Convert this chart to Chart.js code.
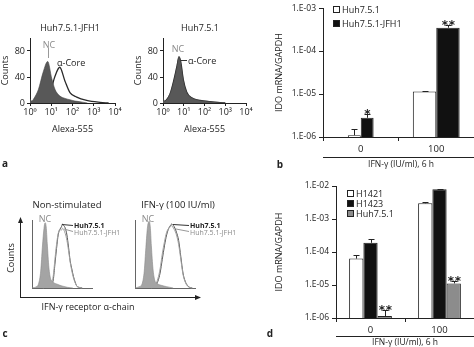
<!DOCTYPE html>
<html>
<head>
<meta charset="utf-8">
<script src="https://cdn.jsdelivr.net/npm/chart.js@4"></script>
<style>
body { margin: 0; background: #fff; }
#fig { position: relative; width: 474px; height: 347px; overflow: hidden; background: #fff;
  font-family: 'Open Sans', sans-serif; color: #222; }
#fig canvas { position: absolute; }
.lbl { position: absolute; white-space: nowrap; font-size: 9px; line-height: 1; transform: translate(-50%, -50%); }
.lft { transform: translate(0, -50%); }
.gry { color: #8a8a8a; }
.pl { font-weight: bold; font-size: 10px; }
svg { position: absolute; left: 0; top: 0; }
</style>
</head>
<body>
<div id="fig">
  <canvas id="a1" width="124" height="105" style="left:0;top:30px"></canvas>
  <canvas id="a2" width="122" height="105" style="left:133px;top:30px"></canvas>
  <canvas id="b" width="200" height="170" style="left:274px;top:0"></canvas>
  <canvas id="c1" width="64" height="72" style="left:30px;top:218px"></canvas>
  <canvas id="c2" width="64" height="72" style="left:133px;top:218px"></canvas>
  <canvas id="d" width="200" height="171" style="left:274px;top:176px"></canvas>
  <svg width="474" height="347" stroke-width="1" fill="none">
    <!-- panel a leader lines -->
    <line x1="48.5" y1="48" x2="48.5" y2="58" stroke="#999"/>
    <line x1="181" y1="60.5" x2="187" y2="60.5" stroke="#333"/>
    <!-- panel c frame arrows -->
    <line x1="20.5" y1="297.5" x2="20.5" y2="221" stroke="#222"/>
    <polygon points="18,223 23,223 20.5,217" fill="#222" stroke="none"/>
    <line x1="20" y1="297.5" x2="196" y2="297.5" stroke="#222"/>
    <polygon points="195,295 195,300 201,297.5" fill="#222" stroke="none"/>
    <!-- panel c leader lines -->
    <line x1="62" y1="224.5" x2="73" y2="225.5" stroke="#333"/>
    <line x1="64" y1="229" x2="73" y2="231.5" stroke="#999"/>
    <line x1="173" y1="224.5" x2="189" y2="225.5" stroke="#333"/>
    <line x1="176" y1="229" x2="189" y2="231.5" stroke="#999"/>
    <!-- group lines under category axes -->
    <line x1="323" y1="157.5" x2="474" y2="157.5" stroke="#222"/>
    <line x1="336" y1="336.5" x2="474" y2="336.5" stroke="#222"/>
  </svg>
</div>
<script>
// ---------- data ----------
// a: Alexa-555 (log channel) vs counts
const aJfhNcX   = [1, 1.2, 1.6, 2.5, 4.2, 6.8, 10.5, 15, 25, 45, 76, 130, 225, 500];
const aJfhNcY   = [6, 3, 8, 21, 48, 64, 38, 21, 11, 7, 5, 3, 2, 0];
const aJfhCoreX = [1, 2, 3, 5, 8.7, 15, 25, 44, 76, 158, 465, 2000, 5000];
const aJfhCoreY = [1, 2, 3, 8, 16, 41, 55, 34, 16, 9, 4, 1, 0];
const aHuhX     = [1, 1.1, 1.4, 2.2, 3.1, 4.6, 5.9, 7.1, 9.5, 13.8, 24, 61, 185, 1000];
const aHuhNcY   = [12, 3, 4, 15, 30, 54, 72, 62, 35, 16, 8, 4, 2, 0];
const aHuhCoreY = [10, 2, 4, 14, 31, 55, 70, 64, 36, 17, 8, 4, 2, 0];

// b: IDO mRNA/GAPDH, Huh7.5.1 vs Huh7.5.1-JFH1
const bCats   = ['0', '100'];
const bHuh    = [1.1e-6, 1.15e-5];
const bHuhErr = [0.45e-6, 0.05e-5];
const bJfh    = [2.8e-6, 3.5e-4];
const bJfhErr = [0.7e-6, 0.5e-4];
const bJfhSig = ['*', '**'];

// c: IFN-gamma receptor alpha-chain (channel) vs counts
const c1NcX  = [0, 8, 12, 16, 19, 22, 24, 26, 28, 31, 34, 38, 45, 55, 65, 75];
const c1NcY  = [0, 2, 6, 25, 60, 88, 96, 90, 65, 30, 14, 9, 6, 3, 1, 0];
const c1X    = [20, 30, 35, 39, 42, 45, 48, 51, 54, 56, 58, 61, 64, 67, 70, 73, 76, 79, 82, 86, 92];
const c1HuhY = [0, 2, 5, 12, 35, 58, 78, 86, 90, 94, 92, 88, 78, 60, 40, 28, 17, 9, 3, 1, 0];
const c1JfhY = [0, 3, 8, 18, 42, 64, 80, 86, 85, 88, 86, 80, 70, 55, 38, 25, 15, 8, 3, 1, 0];
const c2NcX  = [0, 8, 13, 17, 20, 23, 26, 28, 30, 33, 36, 40, 48, 58, 70];
const c2NcY  = [0, 2, 6, 25, 60, 90, 98, 90, 62, 28, 12, 7, 4, 2, 0];
const c2X    = [30, 38, 42, 46, 50, 54, 58, 62, 65, 67, 69, 72, 76, 80, 84, 88, 92, 96, 100, 105];
const c2HuhY = [0, 4, 10, 22, 42, 62, 78, 88, 92, 94, 93, 90, 82, 70, 46, 22, 10, 4, 1, 0];
const c2JfhY = [0, 6, 14, 28, 50, 68, 82, 88, 90, 92, 90, 86, 78, 64, 42, 20, 9, 3, 1, 0];

// d: IDO mRNA/GAPDH in three cell lines
const dCats     = ['0', '100'];
const dH1421    = [6.3e-5, 3.0e-3];
const dH1421Err = [1.7e-5, 0.3e-3];
const dH1423    = [1.9e-4, 8.0e-3];
const dH1423Err = [0.6e-4, 0.3e-3];
const dHuh      = [1.15e-6, 1.12e-5];
const dHuhErr   = [0.55e-6, 0.18e-5];
const dHuhSig   = ['**', '**'];

// ---------- setup ----------
Chart.defaults.font.family = "'Open Sans', sans-serif";
Chart.defaults.font.size = 9;
Chart.defaults.color = '#222';
Chart.defaults.animation = false;
Chart.defaults.responsive = false;
Chart.defaults.plugins.legend.display = false;
Chart.defaults.plugins.tooltip.enabled = false;

const pts = (xs, ys) => xs.map((x, i) => ({ x, y: ys[i] }));
const isPow10 = v => { const l = Math.log10(v); return Math.abs(l - Math.round(l)) < 1e-6; };
const SUP = ['⁰', '¹', '²', '³', '⁴'];
const axisGrid = { display: true, drawOnChartArea: false, tickLength: 3, color: '#222' };

function histA(id, ncX, ncY, coreX, coreY) {
  return new Chart(document.getElementById(id), {
    type: 'line',
    data: { datasets: [
      { data: pts(ncX, ncY), fill: 'origin', backgroundColor: '#585858', borderColor: '#444', borderWidth: 0.6,
        pointRadius: 0, cubicInterpolationMode: 'monotone' },
      { data: pts(coreX, coreY), fill: false, borderColor: '#2a2a2a', borderWidth: 1.3,
        pointRadius: 0, cubicInterpolationMode: 'monotone' }
    ] },
    options: {
      layout: { padding: { top: 8, right: 9 } },
      scales: {
        x: { type: 'logarithmic', min: 1, max: 10000,
          afterBuildTicks: s => { s.ticks = s.ticks.filter(t => isPow10(t.value)); },
          ticks: { callback: v => '10' + SUP[Math.round(Math.log10(v))], padding: 1, maxRotation: 0, autoSkip: false },
          grid: axisGrid, border: { color: '#222' },
          title: { display: true, text: 'Alexa-555', padding: 0 },
          afterFit: s => { s.height = 32; } },
        y: { min: 0, max: 100, ticks: { stepSize: 20, padding: 2 },
          grid: axisGrid, border: { color: '#222' },
          title: { display: true, text: 'Counts', padding: 0 },
          afterFit: s => { s.width = 30; } }
      }
    }
  });
}

function histC(id, ncX, ncY, x, huhY, jfhY) {
  const dotted = { display: true, color: '#666', dash: [1, 1.5] };
  return new Chart(document.getElementById(id), {
    type: 'line',
    data: { datasets: [
      { data: pts(ncX, ncY), fill: 'origin', backgroundColor: '#a4a4a4', borderColor: '#888', borderWidth: 0.6,
        pointRadius: 0, cubicInterpolationMode: 'monotone', clip: false },
      { data: pts(x, jfhY), fill: false, borderColor: '#a0a0a0', borderWidth: 1,
        pointRadius: 0, cubicInterpolationMode: 'monotone', clip: false },
      { data: pts(x, huhY), fill: false, borderColor: '#555', borderWidth: 1,
        pointRadius: 0, cubicInterpolationMode: 'monotone', clip: false }
    ] },
    options: {
      layout: { padding: 2 },
      scales: {
        x: { type: 'linear', min: 0, max: 110, ticks: { display: false }, grid: { display: false },
          border: dotted, afterFit: s => { s.height = 0; } },
        y: { min: 0, max: 100, ticks: { display: false }, grid: { display: false },
          border: dotted, afterFit: s => { s.width = 0; } }
      }
    }
  });
}

// error bars + significance marks on top of bars
const errorBars = {
  id: 'errorBars',
  afterDatasetsDraw(chart) {
    const ctx = chart.ctx, y = chart.scales.y;
    chart.data.datasets.forEach((ds, di) => {
      chart.getDatasetMeta(di).data.forEach((bar, i) => {
        const top = Math.round(y.getPixelForValue(ds.data[i] + ds.err[i])) + 0.5;
        const bx = Math.round(bar.x) + 0.5;
        ctx.save();
        ctx.strokeStyle = '#222'; ctx.lineWidth = 1;
        ctx.beginPath();
        ctx.moveTo(bx, bar.y); ctx.lineTo(bx, top);
        ctx.moveTo(bx - 3, top); ctx.lineTo(bx + 3, top);
        ctx.stroke();
        const s = ds.sig && ds.sig[i];
        if (s) {
          ctx.fillStyle = '#222'; ctx.font = "bold 12px 'DejaVu Sans', sans-serif"; ctx.textAlign = 'center';
          const n = s.length;
          for (let k = 0; k < n; k++) ctx.fillText('*', bx + (k - (n - 1) / 2) * 7, top + 3);
        }
        ctx.restore();
      });
    });
  }
};

// narrower bar groups where the figure draws them narrower
const groupWidth = {
  id: 'groupWidth',
  afterDatasetsUpdate(chart, args, opts) {
    const f = opts.factors;
    if (!f) return;
    const x = chart.scales.x;
    chart.data.datasets.forEach((ds, di) => {
      chart.getDatasetMeta(di).data.forEach((bar, i) => {
        const c = x.getPixelForValue(i);
        bar.x = c + (bar.x - c) * f[i];
        bar.width *= f[i];
      });
    });
  }
};

// vertical legend inside the plot
const boxLegend = {
  id: 'boxLegend',
  afterDraw(chart, args, o) {
    const ctx = chart.ctx, a = chart.chartArea;
    chart.data.datasets.forEach((ds, i) => {
      const x = Math.round(a.left + o.x), y = Math.round(a.top + o.y + i * o.gap);
      ctx.save();
      ctx.fillStyle = ds.backgroundColor; ctx.fillRect(x, y - 3, 7, 7);
      ctx.strokeStyle = '#222'; ctx.lineWidth = 1; ctx.strokeRect(x + 0.5, y - 2.5, 6, 6);
      ctx.fillStyle = '#222'; ctx.font = "9px 'Open Sans', sans-serif"; ctx.textBaseline = 'middle';
      ctx.fillText(ds.label, x + 9, y + 1);
      ctx.restore();
    });
  }
};

function barChart(id, cats, datasets, min, max, yWidth, xHeight, padTop, legend, factors) {
  return new Chart(document.getElementById(id), {
    type: 'bar',
    data: { labels: cats, datasets: datasets.map(d => Object.assign({
      borderColor: '#222', borderWidth: 1, categoryPercentage: 0.62, barPercentage: 1 }, d)) },
    options: {
      layout: { padding: { top: padTop, right: 0 } },
      plugins: { boxLegend: legend, groupWidth: { factors } },
      scales: {
        x: { grid: { display: true, offset: true, drawOnChartArea: false, tickLength: 4, color: '#222' },
          border: { color: '#222' }, ticks: { padding: 3, font: { size: 9.5 } },
          afterFit: s => { s.height = xHeight; } },
        y: { type: 'logarithmic', min, max,
          afterBuildTicks: s => { s.ticks = s.ticks.filter(t => isPow10(t.value)); },
          ticks: { callback: v => '1.E-' + String(-Math.round(Math.log10(v))).padStart(2, '0'), padding: 3, font: { size: 8.5 } },
          grid: { display: true, drawOnChartArea: false, tickLength: 4, color: '#222' },
          border: { color: '#222' },
          title: { display: true, text: 'IDO mRNA/GAPDH', padding: 0 },
          afterFit: s => { s.width = yWidth; } }
      }
    },
    plugins: [groupWidth, errorBars, boxLegend]
  });
}

histA('a1', aJfhNcX, aJfhNcY, aJfhCoreX, aJfhCoreY);
histA('a2', aHuhX, aHuhNcY, aHuhX, aHuhCoreY);

barChart('b', bCats, [
  { label: 'Huh7.5.1', data: bHuh, err: bHuhErr, backgroundColor: '#fff' },
  { label: 'Huh7.5.1-JFH1', data: bJfh, err: bJfhErr, sig: bJfhSig, backgroundColor: '#111' }
], 1e-6, 1e-3, 49, 33, 4, { x: 10, y: 1, gap: 14 }, [0.55, 1]);

histC('c1', c1NcX, c1NcY, c1X, c1HuhY, c1JfhY);
histC('c2', c2NcX, c2NcY, c2X, c2HuhY, c2JfhY);

barChart('d', dCats, [
  { label: 'H1421', data: dH1421, err: dH1421Err, backgroundColor: '#fff' },
  { label: 'H1423', data: dH1423, err: dH1423Err, backgroundColor: '#111' },
  { label: 'Huh7.5.1', data: dHuh, err: dHuhErr, sig: dHuhSig, backgroundColor: '#8c8c8c' }
], 1e-6, 1e-2, 62, 29, 10, { x: 11, y: 7, gap: 10 }, [1, 1]);

// ---------- text ----------
const fig = document.getElementById('fig');
function label(text, x, y, cls, style) {
  const d = document.createElement('div');
  d.className = 'lbl ' + (cls || '');
  d.textContent = text;
  d.style.left = x + 'px'; d.style.top = y + 'px';
  Object.assign(d.style, style || {});
  fig.appendChild(d);
}
label('Huh7.5.1-JFH1', 70, 27);
label('Huh7.5.1', 200, 27);
label('NC', 49, 44, 'gry');
label('α-Core', 57, 62, 'lft');
label('NC', 178, 48, 'gry');
label('α-Core', 188, 60, 'lft');
label('a', 5, 163, 'pl');

label('IFN-γ (IU/ml), 6 h', 401, 164, '', { fontSize: '8.5px' });
label('b', 280, 164, 'pl');

label('Non-stimulated', 67, 205, '', { fontSize: '9.5px' });
label('IFN-γ (100 IU/ml)', 178, 205, '', { fontSize: '9.5px' });
label('NC', 45, 218, 'gry');
label('NC', 148, 218, 'gry');
label('Huh7.5.1', 74, 225, 'lft', { fontSize: '7px', fontWeight: 'bold' });
label('Huh7.5.1-JFH1', 74, 232, 'lft gry', { fontSize: '7px' });
label('Huh7.5.1', 190, 225, 'lft', { fontSize: '7px', fontWeight: 'bold' });
label('Huh7.5.1-JFH1', 190, 232, 'lft gry', { fontSize: '7px' });
label('Counts', 10, 258, '', { transform: 'translate(-50%, -50%) rotate(-90deg)' });
label('IFN-γ receptor α-chain', 88, 306);
label('c', 5, 333, 'pl');

label('IFN-γ (IU/ml), 6 h', 405, 342, '', { fontSize: '8.5px' });
label('d', 270, 333, 'pl');
</script>
</body>
</html>
